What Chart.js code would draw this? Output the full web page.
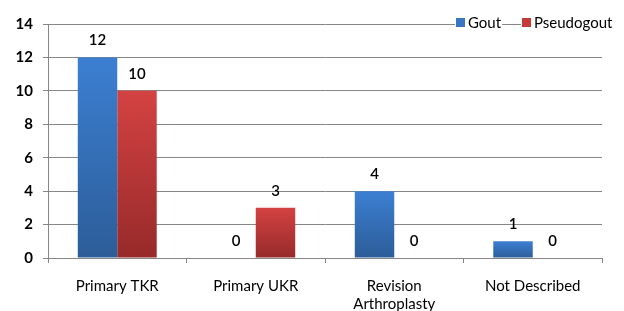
<!DOCTYPE html>
<html>
<head>
<meta charset="utf-8">
<script src="https://cdn.jsdelivr.net/npm/chart.js@4/dist/chart.umd.min.js"></script>
<style>
  html, body { margin: 0; padding: 0; background: #fff; }
  #wrap { width: 624px; height: 311px; position: relative; }
</style>
</head>
<body>
<div id="wrap"><canvas id="gout"></canvas></div>
<script>
const categories = ['Primary TKR', 'Primary UKR', ['Revision', 'Arthroplasty'], 'Not Described'];
const goutValues = [12, 0, 4, 1];
const pseudoValues = [10, 3, 0, 0];
const yTicks = [0, 2, 4, 6, 8, 10, 12, 14];

const FONT = 'Lato, "Open Sans", sans-serif';

function barGradient(top, bottom) {
    return function (ctx) {
        const chart = ctx.chart;
        if (!chart.chartArea || ctx.parsed == null) return top;
        const y = chart.scales.y;
        const y0 = y.getPixelForValue(ctx.parsed.y);
        const y1 = y.getPixelForValue(0);
        if (y1 - y0 < 1) return top;
        const g = chart.ctx.createLinearGradient(0, y0, 0, y1);
        g.addColorStop(0, top);
        g.addColorStop(1, bottom);
        return g;
    };
}

// value labels above each bar, including zeros
const valueLabels = {
    id: 'valueLabels',
    afterDatasetsDraw(chart) {
        const c = chart.ctx;
        c.save();
        c.font = '600 15px ' + FONT;
        c.fillStyle = '#000';
        c.textAlign = 'center';
        c.textBaseline = 'middle';
        chart.data.datasets.forEach((ds, i) => {
            chart.getDatasetMeta(i).data.forEach((bar, j) => {
                c.fillText(String(ds.data[j]), bar.x, bar.y - 17);
            });
        });
        c.restore();
    }
};

// legend at top right, drawn over the top gridline
const cornerLegend = {
    id: 'cornerLegend',
    afterDraw(chart) {
        const c = chart.ctx;
        c.save();
        c.font = '15px ' + FONT;
        c.textBaseline = 'middle';
        const y = 22;
        const items = [
            { label: 'Gout', color: '#3a76c4', x: 456 },
            { label: 'Pseudogout', color: '#c63a3a', x: 522 }
        ];
        items.forEach(it => {
            c.fillStyle = '#fff';
            c.fillRect(it.x - 1, y - 6, 10 + c.measureText(it.label).width + 4, 12);
        });
        items.forEach(it => {
            c.fillStyle = it.color;
            c.fillRect(it.x, y - 4, 9, 9);
            c.fillStyle = '#000';
            c.fillText(it.label, it.x + 12, y + 1);
        });
        c.restore();
    }
};

new Chart(document.getElementById('gout'), {
    type: 'bar',
    data: {
        labels: categories,
        datasets: [
            {
                label: 'Gout',
                data: goutValues,
                backgroundColor: barGradient('#3c7fd2', '#2c5d98'),
                categoryPercentage: 0.57,
                barPercentage: 1.0
            },
            {
                label: 'Pseudogout',
                data: pseudoValues,
                backgroundColor: barGradient('#d44242', '#972a2a'),
                categoryPercentage: 0.57,
                barPercentage: 1.0
            }
        ]
    },
    options: {
        responsive: true,
        maintainAspectRatio: false,
        animation: false,
        layout: { padding: { top: 24, right: 22, left: 0, bottom: 0 } },
        plugins: {
            legend: { display: false },
            tooltip: { enabled: false }
        },
        scales: {
            x: {
                afterFit: s => { s.height = 53; },
                grid: {
                    offset: true,
                    drawOnChartArea: false,
                    color: '#868686',
                    tickLength: 5
                },
                border: { color: '#868686' },
                ticks: {
                    color: '#000',
                    font: { family: FONT, size: 15, lineHeight: 1.2 },
                    padding: 14,
                    maxRotation: 0,
                    autoSkip: false
                }
            },
            y: {
                min: 0,
                max: 14,
                afterFit: s => { s.width = 48; },
                afterBuildTicks: s => { s.ticks = yTicks.map(v => ({ value: v })); },
                grid: { color: '#868686', tickLength: 5 },
                border: { color: '#868686' },
                ticks: {
                    color: '#000',
                    font: { family: FONT, size: 15, weight: 'bold' },
                    padding: 10
                }
            }
        }
    },
    plugins: [valueLabels, cornerLegend]
});
</script>
</body>
</html>
